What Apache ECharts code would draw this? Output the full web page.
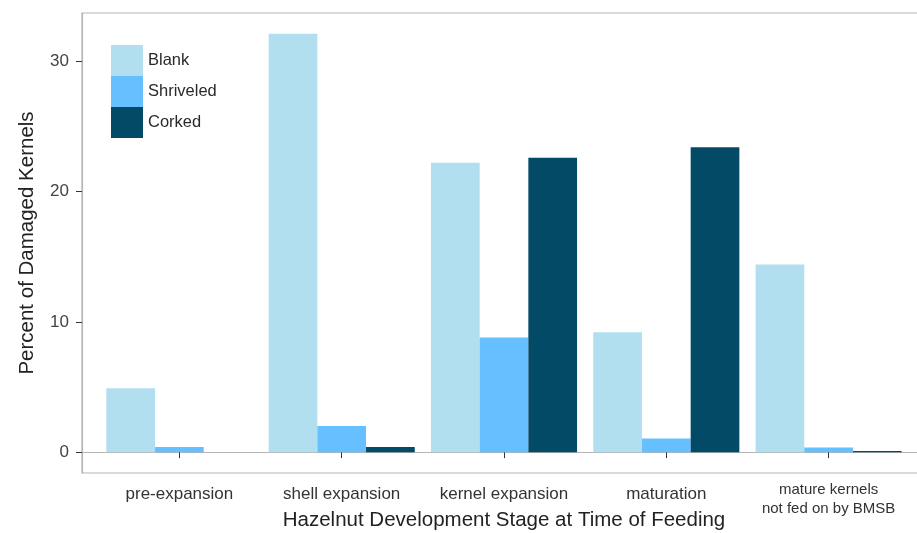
<!DOCTYPE html>
<html>
<head>
<meta charset="utf-8">
<script src="https://cdn.jsdelivr.net/npm/echarts@6/dist/echarts.min.js"></script>
<style>
html,body{margin:0;padding:0;background:#fff;}
#chart{width:917px;height:533px;}
</style>
</head>
<body>
<div id="chart"></div>
<script>
const categories = ['pre-expansion', 'shell expansion', 'kernel expansion', 'maturation', 'mature kernels\nnot fed on by BMSB'];
const blank = [4.9, 32.1, 22.2, 9.2, 14.4];
const shriveled = [0.4, 2.0, 8.8, 1.05, 0.35];
const corked = [0, 0.4, 22.6, 23.4, 0.08];
const yTicks = [0, 10, 20, 30];
const seriesNames = ['Blank', 'Shriveled', 'Corked'];
const colors = ['#b1dff0', '#66c0ff', '#034a66'];

const chart = echarts.init(document.getElementById('chart'));
const font = 'Liberation Sans, Arial, sans-serif';
const positions = categories.map((c, i) => i + 1);
const toPairs = arr => arr.map((v, i) => [i + 1, v]);
const bw = 48.7;

function mkSeries(name, data, color) {
  return {
    name: name,
    type: 'bar',
    data: toPairs(data),
    barWidth: bw,
    barGap: '0%',
    itemStyle: { color: color },
    emphasis: { disabled: true }
  };
}

chart.setOption({
  animation: false,
  backgroundColor: '#ffffff',
  textStyle: { fontFamily: font },
  grid: {
    left: 82, top: 13, width: 844, height: 460,
    outerBoundsMode: 'none',
    containLabel: false,
    show: true, borderColor: '#b5b5b5', borderWidth: 1.2, backgroundColor: 'transparent'
  },
  legend: {
    orient: 'vertical',
    left: 111, top: 45,
    padding: 0,
    itemGap: 0,
    itemWidth: 32, itemHeight: 31,
    icon: 'rect',
    data: seriesNames,
    textStyle: { fontSize: 16.5, color: '#2a2a2a', fontFamily: font }
  },
  xAxis: {
    type: 'value',
    min: 0.4, max: 5.6,
    splitLine: { show: false },
    axisLine: { show: true, lineStyle: { color: '#b5b5b5', width: 1.2 } },
    axisTick: { show: true, length: 6, lineStyle: { color: '#333' }, customValues: positions },
    axisLabel: {
      customValues: positions,
      margin: 13,
      fontSize: 17,
      color: '#333',
      fontFamily: font,
      formatter: function (v) {
        const c = categories[Math.round(v) - 1] || '';
        if (c.indexOf('\n') >= 0) {
          const parts = c.split('\n');
          return '{a|' + parts[0] + '}\n{b|' + parts[1] + '}';
        }
        return c;
      },
      rich: {
        a: { fontSize: 15, lineHeight: 8, color: '#333', fontFamily: font },
        b: { fontSize: 15, lineHeight: 30, color: '#333', fontFamily: font }
      }
    },
    name: 'Hazelnut Development Stage at Time of Feeding',
    nameLocation: 'middle',
    nameGap: 37,
    nameMoveOverlap: false,
    nameTextStyle: { fontSize: 20.5, color: '#222', fontFamily: font }
  },
  yAxis: {
    type: 'value',
    min: -1.6, max: 33.7,
    splitLine: { show: false },
    axisLine: { show: true, lineStyle: { color: '#b5b5b5', width: 1.2 } },
    axisTick: { show: true, length: 6, lineStyle: { color: '#333' }, customValues: yTicks },
    axisLabel: { customValues: yTicks, margin: 13, fontSize: 17, color: '#444', fontFamily: font },
    name: 'Percent of Damaged Kernels',
    nameLocation: 'middle',
    nameGap: 44,
    nameMoveOverlap: false,
    nameTextStyle: { fontSize: 20.5, color: '#222', fontFamily: font }
  },
  series: [
    mkSeries(seriesNames[0], blank, colors[0]),
    mkSeries(seriesNames[1], shriveled, colors[1]),
    mkSeries(seriesNames[2], corked, colors[2])
  ]
});
</script>
</body>
</html>
